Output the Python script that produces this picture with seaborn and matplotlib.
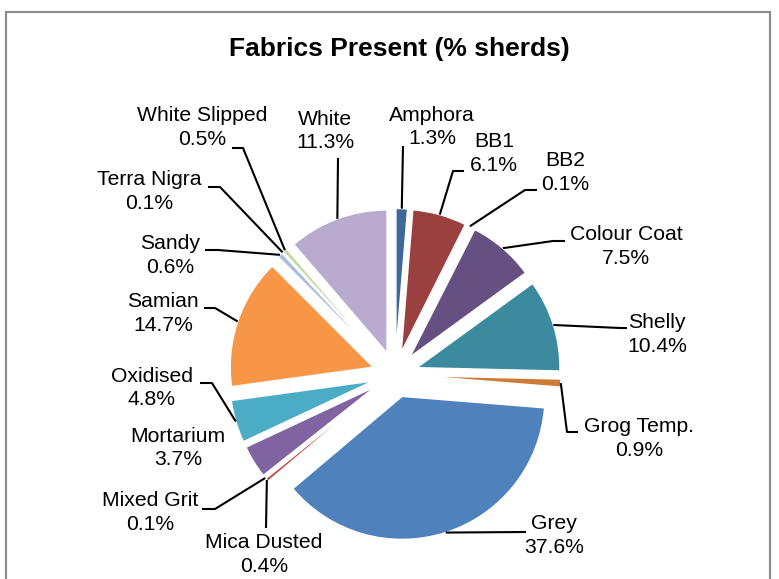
import matplotlib
matplotlib.use("Agg")
import matplotlib.pyplot as plt
import seaborn as sns
import numpy as np
from matplotlib.patches import Rectangle

# Fabric groups, listed clockwise from 12 o'clock
categories = ["Amphora", "BB1", "BB2", "Colour Coat", "Shelly", "Grog Temp.", "Grey",
              "Mica Dusted", "Mixed Grit", "Mortarium", "Oxidised", "Samian", "Sandy",
              "Terra Nigra", "White Slipped", "White"]
percent = [1.3, 6.1, 0.1, 7.5, 10.4, 0.9, 37.6, 0.4, 0.1, 3.7, 4.8, 14.7, 0.6, 0.1, 0.5, 11.3]
slice_colors = ["#3f6797", "#9a403e", "#7c9647", "#665082", "#3c8a9e", "#d07a36",
                "#4f81bd", "#c0504d", "#9bbb59", "#8064a2", "#4bacc6", "#f79646",
                "#a9bddc", "#e0a8a6", "#c6d9a0", "#b9abcf"]
title = "Fabrics Present (% sherds)"

# Canvas in pixels (y measured from the top when laying out labels)
W, H = 779, 579
CX, CY = 395, 374.5      # pie centre
RADIUS = 143
EXPLODE = 23

# Label layout: text centre and leader-line bend points (top-down pixel coords)
label_layout = {
    "Amphora":       ((432, 127),   [(403, 146)]),
    "BB1":           ((494, 153.5), [(453, 171), (464, 171)]),
    "BB2":           ((565, 172.5), [(525, 190), (537, 190)]),
    "Colour Coat":   ((626, 246.5), [(553, 241), (565, 241)]),
    "Shelly":        ((657, 334.5), [(620, 328), (627, 328)]),
    "Grog Temp.":    ((639, 438.5), [(567, 432), (578, 432)]),
    "Grey":          ((554, 535.5), [(526, 532)]),
    "Mica Dusted":   ((264, 554.5), [(266, 528)]),
    "Mixed Grit":    ((150, 512.5), [(215, 509), (202, 509)]),
    "Mortarium":     ((178, 448),   []),
    "Oxidised":      ((152, 388),   [(212, 383), (200, 383)]),
    "Samian":        ((163, 313.5), [(215, 308), (204, 308)]),
    "Sandy":         ((170, 255.5), [(218, 250), (205, 250)]),
    "Terra Nigra":   ((149, 191.5), [(220, 187), (208, 187)]),
    "White Slipped": ((202, 127.5), [(243, 148), (232, 148)]),
    "White":         ((325, 131),   [(338, 158)]),
}

sns.set_theme(style="white")
plt.rcParams["font.family"] = ["Liberation Sans", "DejaVu Sans"]

palette = sns.color_palette(slice_colors)

fig = plt.figure(figsize=(W / 100, H / 100), dpi=100)
fig.patch.set_facecolor("white")
ax = fig.add_axes([0, 0, 1, 1])

wedges, _ = ax.pie(
    percent,
    colors=palette,
    startangle=90,
    counterclock=False,
    radius=RADIUS,
    center=(CX, H - CY),
    explode=[EXPLODE] * len(percent),
    wedgeprops=dict(edgecolor="white", linewidth=1.0),
)
ax.set_xlim(0, W)
ax.set_ylim(0, H)
ax.set_aspect("equal")
ax.axis("off")

for wedge, name, val in zip(wedges, categories, percent):
    (tx, ty), bends = label_layout[name]
    ax.text(tx, H - ty, f"{name}\n{val:.1f}%", ha="center", va="center",
            fontsize=15.2, color="black", linespacing=1.3)
    if bends:
        mid = np.deg2rad((wedge.theta1 + wedge.theta2) / 2)
        sx = wedge.center[0] + wedge.r * np.cos(mid)
        sy = wedge.center[1] + wedge.r * np.sin(mid)
        xs = [sx] + [p[0] for p in bends]
        ys = [sy] + [H - p[1] for p in bends]
        ax.plot(xs, ys, color="black", lw=1.5, solid_capstyle="butt")

fig.text(399.5 / W, 1 - 49 / H, title, ha="center", va="center",
         fontsize=19, fontweight="bold", color="black")

# Chart area border
fig.add_artist(Rectangle((5.5 / W, -0.05), (770 - 5.5) / W, (H - 12) / H + 0.05,
                         transform=fig.transFigure, fill=False,
                         edgecolor="#8b8b8b", lw=1.5))

fig.savefig("out.png", dpi=100, facecolor="white")
